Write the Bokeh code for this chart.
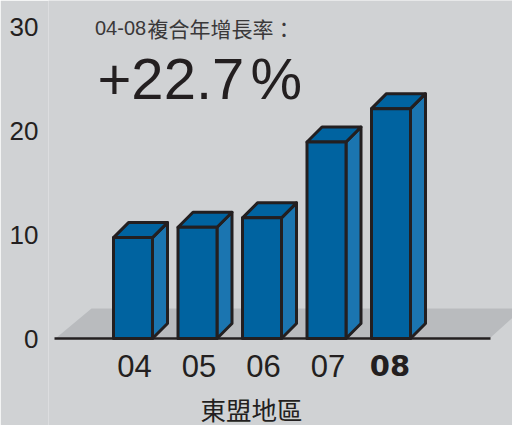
from bokeh.core.properties import value
from bokeh.embed import file_html
from bokeh.models import FixedTicker, Range1d
from bokeh.plotting import figure
from bokeh.resources import INLINE

# Chart values
years = ["04", "05", "06", "07", "08"]
values = [9.7, 10.7, 11.6, 18.9, 22.1]
y_ticks = [0, 10, 20, 30]
subtitle_range = "04-08"
subtitle_label = "複合年增長率："
headline = "+22.7"
headline_unit = "%"
region = "東盟地區"

# Plot geometry in screen-like x units and value units on y
LEFT, W, H = 48, 512, 425
PX_PER_UNIT = 10.4
BASE_PX = 338
FIRST_X, STEP, BAR_W = 132.5, 64.5, 39
DEPTH_X, DEPTH_Y = 15, 15 / PX_PER_UNIT
FLOOR_BACK = 30 / PX_PER_UNIT

BG = "#d0d2d4"
FLOOR = "#b9bbbe"
FRONT = "#0063a0"
SIDE = "#1b75b0"
INK = "#231f20"
SANS = "Liberation Sans"
CJK = "Noto Sans CJK TC"

p = figure(width=W, height=H, output_backend="svg", toolbar_location=None,
           x_range=Range1d(LEFT, W), y_range=Range1d((BASE_PX - H) / PX_PER_UNIT, BASE_PX / PX_PER_UNIT),
           x_axis_location=None, min_border_left=LEFT, min_border_right=0,
           min_border_top=0, min_border_bottom=0,
           background_fill_color=BG, border_fill_color=BG, outline_line_color=None)
p.grid.visible = False

ax = p.yaxis[0]
ax.ticker = FixedTicker(ticks=y_ticks)
ax.axis_line_color = None
ax.major_tick_line_color = None
ax.minor_tick_line_color = None
ax.major_label_standoff = 4
ax.major_label_text_font = SANS
ax.major_label_text_font_size = "26px"
ax.major_label_text_color = INK

# Floor plane behind the bars
p.patch([55, 55 + 36, W, W, 489], [0, FLOOR_BACK, FLOOR_BACK, 2.0, 0],
        fill_color=FLOOR, line_color=None)
p.line([54, 490], [0, 0], line_color=INK, line_width=2.5)

# Each bar: side face, top face, then the front face over them
centers = [FIRST_X + STEP * i for i in range(len(years))]
for cx, v in zip(centers, values):
    l, r = cx - BAR_W / 2, cx + BAR_W / 2
    p.patch([r, r + DEPTH_X, r + DEPTH_X, r], [0, DEPTH_Y, v + DEPTH_Y, v],
            fill_color=SIDE, line_color=INK, line_width=3, line_join="round")
    p.patch([l, l + DEPTH_X, r + DEPTH_X, r], [v, v + DEPTH_Y, v + DEPTH_Y, v],
            fill_color=FRONT, line_color=INK, line_width=3, line_join="round")
    p.patch([l, r, r, l], [0, 0, v, v],
            fill_color=FRONT, line_color=INK, line_width=3, line_join="round")


def label(x, y, text, font, size, color=INK, align="center", style="normal"):
    p.text([x], [y], text=[text], text_font=value(font), text_font_size=size,
           text_color=color, text_align=align, text_baseline="middle", text_font_style=style)


# Year labels, with the latest year emphasised
for cx, yr in zip(centers[:-1], years[:-1]):
    label(cx + 1.5, -2.6, yr, SANS, "31px")
label(centers[-1] - 1, -2.6, years[-1], "DejaVu Sans", "29px", style="bold")

label(94.5, 29.9, subtitle_range, SANS, "20px", "#3a3839", "left")
label(147, 29.9, subtitle_label, CJK, "21px", "#3a3839", "left")
label(97, 25.0, headline, SANS, "58px", "#231f20", "left")
label(250, 25.0, headline_unit, SANS, "58px", "#231f20", "left")
label(251, -6.75, region, CJK, "25.5px")

open("out.html", "w").write(file_html(p, INLINE))
